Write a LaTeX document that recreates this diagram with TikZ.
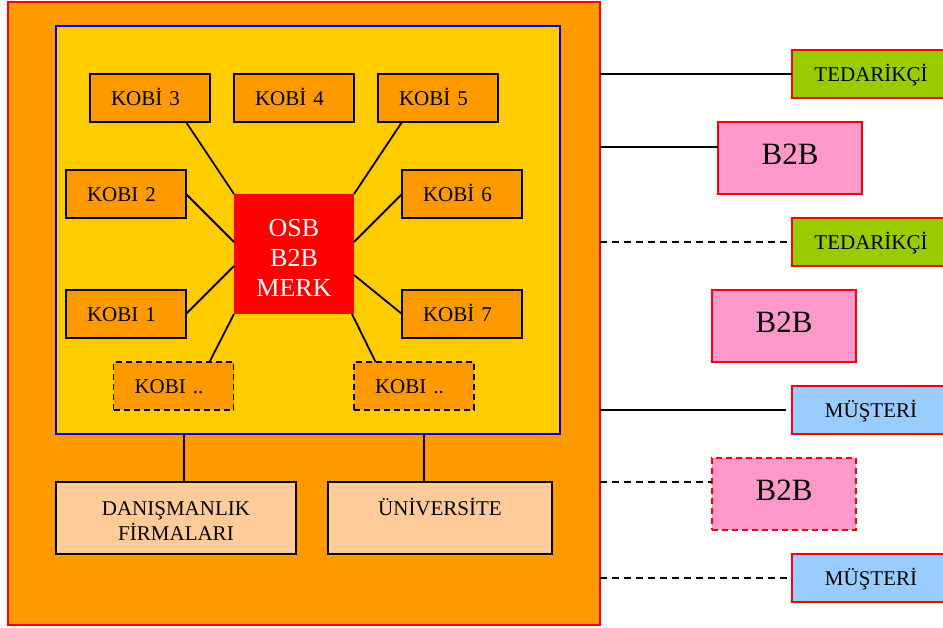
\documentclass[tikz,border=0pt]{standalone}
\usepackage{fontspec}
\setmainfont{Liberation Serif}
\usetikzlibrary{calc}
\definecolor{orangeC}{HTML}{FF9900}
\definecolor{yellowC}{HTML}{FFCC00}
\definecolor{peachC}{HTML}{FFCC99}
\definecolor{greenC}{HTML}{99CC00}
\definecolor{pinkC}{HTML}{FF99CC}
\definecolor{blueC}{HTML}{99CCFF}
\definecolor{redC}{HTML}{FF0000}
\begin{document}
\begin{tikzpicture}[x=1pt,y=-1pt,
  box/.style={rectangle, inner sep=0pt, outer sep=0pt},
  kobi/.style={box, draw=black, line width=1.9pt, fill=orangeC, minimum width=120pt, minimum height=48pt,
     text width=78pt, inner xsep=21pt, align=left, font=\fontsize{21}{25}\selectfont, text height=14.5pt, text depth=0pt},
  kobidash/.style={kobi, dash pattern=on 6pt off 4pt},
  side/.style={box, draw=redC, line width=1.7pt, minimum width=158pt, minimum height=48pt,
     font=\fontsize{21}{25}\selectfont, text height=14pt, text depth=0pt},
  pinkbox/.style={box, draw=redC, line width=1.7pt, fill=pinkC, minimum width=144pt, minimum height=72pt,
     font=\fontsize{31}{36}\selectfont, text height=20.5pt, text depth=8pt},
  peachbox/.style={box, draw=black, line width=1.9pt, fill=peachC, minimum height=72pt},
  btext/.style={anchor=base, inner sep=0pt, font=\fontsize{21}{25}\selectfont},
  link/.style={draw=black, line width=1.8pt},
  dlink/.style={link, dash pattern=on 7pt off 5pt}
]
\useasboundingbox (0,0) rectangle (943,627);
\fill[white] (0,0) rectangle (943,627);

% outer and inner frames
\node[box, draw=redC, line width=1.8pt, fill=orangeC, minimum width=592pt, minimum height=623pt] (outer) at (304,313.5) {};
\node[box, draw=blue, line width=1.8pt, fill=yellowC, minimum width=504pt, minimum height=408pt] (inner) at (308,230) {};

% centre
\node[box, fill=redC, minimum width=120pt, minimum height=120pt] (osb) at (294,254) {};
\node[box, align=center, text=white, font=\fontsize{26}{30}\selectfont] (osbt) at (294,257.6) {OSB\\B2B\\MERK};

% KOBI nodes
\node[kobi] (k3) at (150,98) {KOBİ 3};
\node[kobi] (k4) at (294,98) {KOBİ 4};
\node[kobi] (k5) at (438,98) {KOBİ 5};
\node[kobi] (k2) at (126,194) {KOBI 2};
\node[kobi] (k6) at (462,194) {KOBİ 6};
\node[kobi] (k1) at (126,314) {KOBI 1};
\node[kobi] (k7) at (462,314) {KOBİ 7};
\node[kobidash] (kl) at (173.5,386) {KOBI ..};
\node[kobidash] (kr) at (414,386) {KOBI ..};

% spokes
\draw[link] ($(k3.south west)!0.8!(k3.south east)$) -- (osb.north west);
\draw[link] (k2.east) -- ($(osb.north west)!0.4!(osb.south west)$);
\draw[link] (k1.east) -- ($(osb.north west)!0.6!(osb.south west)$);
\draw[link] ($(kl.north west)!0.8!(kl.north east)$) -- (osb.south west);
\draw[link] ($(kr.north west)!0.18!(kr.north east)$) -- ($(osb.south east)+(-2,0)$);
\draw[link] ($(k5.south west)!0.2!(k5.south east)$) -- (osb.north east);
\draw[link] (k6.west) -- ($(osb.north east)!0.4!(osb.south east)$);
\draw[link] (k7.west) -- ($(osb.north east)!0.675!(osb.south east)$);

% bottom boxes
\node[peachbox, minimum width=240pt] (dan) at (176,518) {};
\node[btext] (dant1) at (176,515) {DANIŞMANLIK};
\node[btext] (dant2) at (176,540) {FİRMALARI};
\node[peachbox, minimum width=224pt] (uni) at (440,518) {};
\node[btext] (unit) at (440,515) {ÜNİVERSİTE};
\coordinate (danp) at ($(dan.north west)!0.5333!(dan.north east)$);
\coordinate (unip) at ($(uni.north west)!0.4286!(uni.north east)$);
\draw[link] (danp) -- (danp |- inner.south);
\draw[link] (unip) -- (unip |- inner.south);

% right side
\node[side, fill=greenC] (ted1) at (871,74) {TEDARİKÇİ};
\node[pinkbox] (b1) at (790,158) {B2B};
\node[side, fill=greenC] (ted2) at (871,242) {TEDARİKÇİ};
\node[pinkbox] (b2) at (784,326) {B2B};
\node[side, fill=blueC] (mus1) at (871,410) {MÜŞTERİ};
\node[pinkbox, dash pattern=on 6pt off 4pt] (b3) at (784,494) {B2B};
\node[side, fill=blueC] (mus2) at (871,578) {MÜŞTERİ};

\coordinate (b1p) at ($(b1.north west)!0.35!(b1.south west)$);
\coordinate (b3p) at ($(b3.north west)!0.3333!(b3.south west)$);
\draw[link] (ted1.west -| outer.east) -- (ted1.west);
\draw[link] (b1p -| outer.east) -- (b1p);
\draw[dlink] (ted2.west -| outer.east) -- (ted2.west);
\draw[link] (mus1.west -| outer.east) -- ($(mus1.west)+(-6,0)$);
\draw[dlink] (b3p -| outer.east) -- (b3p);
\draw[dlink] (mus2.west -| outer.east) -- (mus2.west);
\end{tikzpicture}
\end{document}
